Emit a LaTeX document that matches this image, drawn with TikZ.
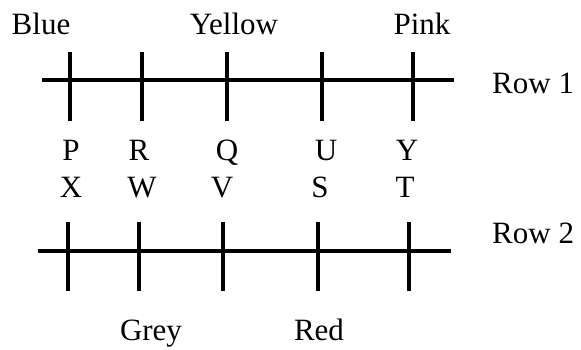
\documentclass[tikz,border=0pt]{standalone}
\usepackage{fontspec}
\setmainfont{Liberation Serif}
\begin{document}
\begin{tikzpicture}[x=1pt,y=-1pt,
  bar/.style={line width=4.5pt,black},
  lbl/.style={inner sep=0pt,anchor=base,font=\fontsize{31}{33}\selectfont},
  rowlbl/.style={inner sep=0pt,anchor=base west,font=\fontsize{31}{33}\selectfont}]
\useasboundingbox (0,0) rectangle (581,349);
% Row 1
\coordinate (r1a) at (42,80);
\coordinate (r1b) at (454,80);
\draw[bar] (r1a) -- (r1b);
\foreach \x in {70,142,227,322,413}{
  \draw[bar] (\x,52) -- (\x,121);
}
% Row 2
\coordinate (r2a) at (38,251);
\coordinate (r2b) at (451,251);
\draw[bar] (r2a) -- (r2b);
\foreach \x in {68,139,223,318,409}{
  \draw[bar] (\x,222) -- (\x,291);
}
% top labels
\node[lbl] (blue) at (41,34) {Blue};
\node[lbl] (yellow) at (234,34) {Yellow};
\node[lbl] (pink) at (422,34) {Pink};
\node[rowlbl] (row1) at (492,93) {Row 1};
\node[rowlbl] (row2) at (492,243) {Row 2};
% middle letters
\node[lbl] (p) at (71,160) {P};
\node[lbl] (r) at (139,160) {R};
\node[lbl] (q) at (227,160) {Q};
\node[lbl] (u) at (326,160) {U};
\node[lbl] (y) at (407,160) {Y};
\node[lbl] (xx) at (71,197) {X};
\node[lbl] (w) at (142,197) {W};
\node[lbl] (v) at (222,197) {V};
\node[lbl] (s) at (320,197) {S};
\node[lbl] (t) at (405,197) {T};
% bottom labels
\node[lbl] (grey) at (151,340) {Grey};
\node[lbl] (red) at (319,340) {Red};
\end{tikzpicture}
\end{document}
